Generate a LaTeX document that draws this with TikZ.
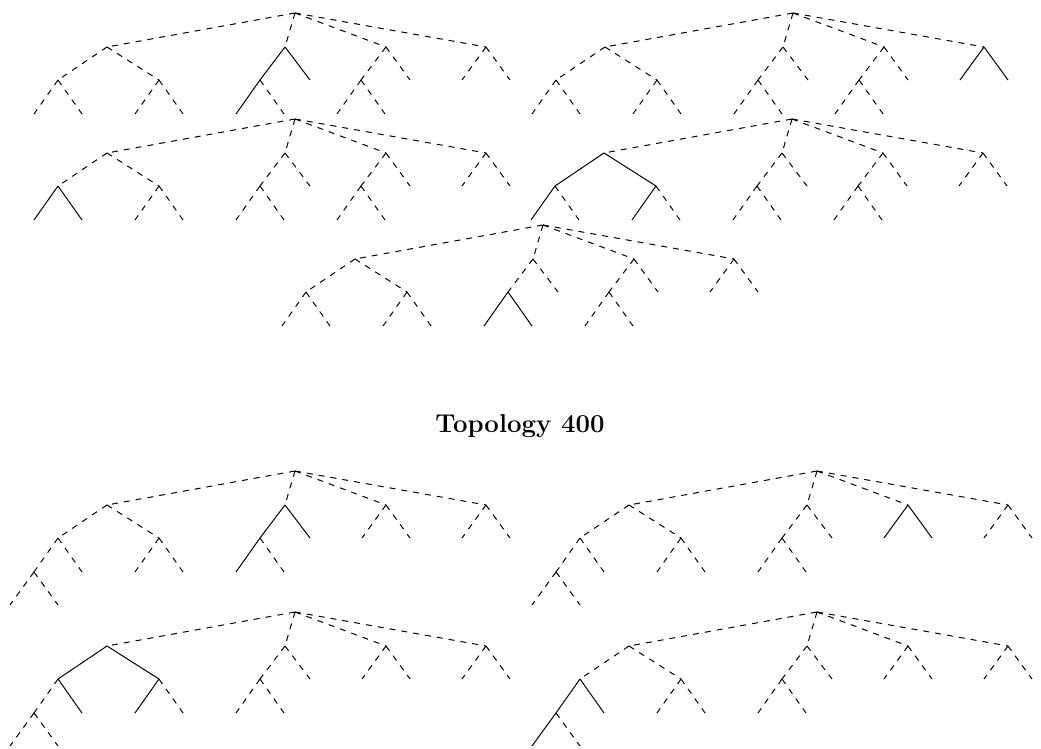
\documentclass[tikz,border=0pt]{standalone}
\newcommand\ed[3]{\draw[tedge,e-#2-#3/.try] (#1-#2) -- (#1-#3);}
\newcommand\topoA[1]{%
  \coordinate (#1-r) at (0,0);
  \coordinate (#1-A) at (-188,34);
  \coordinate (#1-A1) at (-237,67);
  \coordinate (#1-A2) at (-136,67);
  \coordinate (#1-A11) at (-261,101);
  \coordinate (#1-A12) at (-213,101);
  \coordinate (#1-A21) at (-160,101);
  \coordinate (#1-A22) at (-112,101);
  \coordinate (#1-B) at (-10,34);
  \coordinate (#1-B1) at (-35,67);
  \coordinate (#1-B2) at (15,67);
  \coordinate (#1-B11) at (-59,101);
  \coordinate (#1-B12) at (-11,101);
  \coordinate (#1-C) at (91,34);
  \coordinate (#1-C1) at (66,67);
  \coordinate (#1-C2) at (115,67);
  \coordinate (#1-C11) at (42,101);
  \coordinate (#1-C12) at (90,101);
  \coordinate (#1-D) at (191,34);
  \coordinate (#1-D1) at (167,67);
  \coordinate (#1-D2) at (215,67);
  \ed{#1}{r}{A}\ed{#1}{r}{B}\ed{#1}{r}{C}\ed{#1}{r}{D}
  \ed{#1}{A}{A1}\ed{#1}{A}{A2}\ed{#1}{A1}{A11}\ed{#1}{A1}{A12}\ed{#1}{A2}{A21}\ed{#1}{A2}{A22}
  \ed{#1}{B}{B1}\ed{#1}{B}{B2}\ed{#1}{B1}{B11}\ed{#1}{B1}{B12}
  \ed{#1}{C}{C1}\ed{#1}{C}{C2}\ed{#1}{C1}{C11}\ed{#1}{C1}{C12}
  \ed{#1}{D}{D1}\ed{#1}{D}{D2}%
}
\newcommand\topoB[1]{%
  \coordinate (#1-r) at (0,0);
  \coordinate (#1-A) at (-188,34);
  \coordinate (#1-A1) at (-237,67);
  \coordinate (#1-A2) at (-136,67);
  \coordinate (#1-A11) at (-261,101);
  \coordinate (#1-A12) at (-213,101);
  \coordinate (#1-A111) at (-285,134);
  \coordinate (#1-A112) at (-237,134);
  \coordinate (#1-A21) at (-160,101);
  \coordinate (#1-A22) at (-112,101);
  \coordinate (#1-B) at (-10,34);
  \coordinate (#1-B1) at (-35,67);
  \coordinate (#1-B2) at (15,67);
  \coordinate (#1-B11) at (-59,101);
  \coordinate (#1-B12) at (-11,101);
  \coordinate (#1-C) at (91,34);
  \coordinate (#1-C1) at (67,67);
  \coordinate (#1-C2) at (115,67);
  \coordinate (#1-D) at (191,34);
  \coordinate (#1-D1) at (167,67);
  \coordinate (#1-D2) at (215,67);
  \ed{#1}{r}{A}\ed{#1}{r}{B}\ed{#1}{r}{C}\ed{#1}{r}{D}
  \ed{#1}{A}{A1}\ed{#1}{A}{A2}\ed{#1}{A1}{A11}\ed{#1}{A1}{A12}
  \ed{#1}{A11}{A111}\ed{#1}{A11}{A112}\ed{#1}{A2}{A21}\ed{#1}{A2}{A22}
  \ed{#1}{B}{B1}\ed{#1}{B}{B2}\ed{#1}{B1}{B11}\ed{#1}{B1}{B12}
  \ed{#1}{C}{C1}\ed{#1}{C}{C2}
  \ed{#1}{D}{D1}\ed{#1}{D}{D2}%
}
\begin{document}
\begin{tikzpicture}[x=0.5pt,y=-0.5pt,
  tedge/.style={line width=0.5pt,dashed},
  sol/.style={solid}]
\useasboundingbox (0,0) rectangle (1041,749);
% Upper group
\begin{scope}[shift={(295,13)}, e-B-B1/.style={solid}, e-B-B2/.style={solid}, e-B1-B11/.style={solid}]
  \topoA{t1}
\end{scope}
\begin{scope}[shift={(793,13)}, e-D-D1/.style={solid}, e-D-D2/.style={solid}]
  \topoA{t2}
\end{scope}
\begin{scope}[shift={(295,119)}, e-A1-A11/.style={solid}, e-A1-A12/.style={solid}]
  \topoA{t3}
\end{scope}
\begin{scope}[shift={(792,119)}, e-A-A1/.style={solid}, e-A-A2/.style={solid}, e-A1-A11/.style={solid}, e-A2-A21/.style={solid}]
  \topoA{t4}
\end{scope}
\begin{scope}[shift={(543,225)}, e-B1-B11/.style={solid}, e-B1-B12/.style={solid}]
  \topoA{t5}
\end{scope}
% Heading
\node[anchor=base, inner sep=0pt, font=\fontsize{12.9}{15}\selectfont\bfseries] (title) at (520,433) {Topology 400};
% Lower group
\begin{scope}[shift={(295,471)}, e-B-B1/.style={solid}, e-B-B2/.style={solid}, e-B1-B11/.style={solid}]
  \topoB{t6}
\end{scope}
\begin{scope}[shift={(817,471)}, e-C-C1/.style={solid}, e-C-C2/.style={solid}]
  \topoB{t7}
\end{scope}
\begin{scope}[shift={(295,612)}, e-A-A1/.style={solid}, e-A-A2/.style={solid}, e-A1-A12/.style={solid}, e-A2-A21/.style={solid}]
  \topoB{t8}
\end{scope}
\begin{scope}[shift={(817,612)}, e-A1-A11/.style={solid}, e-A1-A12/.style={solid}, e-A11-A111/.style={solid}]
  \topoB{t9}
\end{scope}
\end{tikzpicture}
\end{document}
